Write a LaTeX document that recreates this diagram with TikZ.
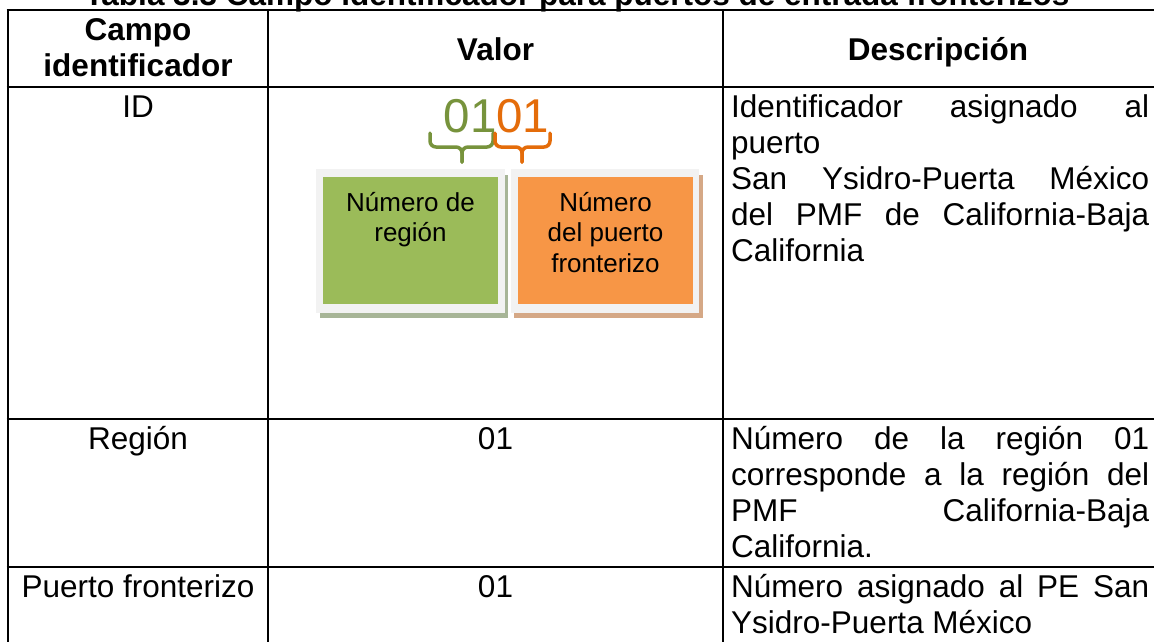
\documentclass[tikz,border=0pt]{standalone}
\usepackage{fontspec}
\setmainfont{Liberation Sans}
\definecolor{gdark}{HTML}{77933C}
\definecolor{odark}{HTML}{E46C0A}
\definecolor{gfill}{HTML}{9BBB59}
\definecolor{ofill}{HTML}{F79646}
\definecolor{framegray}{HTML}{F2F2F2}
\definecolor{gshadow}{HTML}{A7B597}
\definecolor{oshadow}{HTML}{D5A886}
\tikzset{
  cell/.style={inner sep=0pt, font=\fontsize{31.5}{36}\selectfont},
  head/.style={inner sep=0pt, font=\fontsize{31.5}{36}\selectfont\bfseries},
  gridline/.style={line width=2.6pt, black},
  boxtxt/.style={inner sep=0pt, font=\fontsize{26}{30}\selectfont},
  bracepath/.style={line width=3.5pt, rounded corners=6pt, line cap=round},
}
\newcommand{\jline}[1]{\makebox[418pt][s]{#1}}
\begin{document}
\begin{tikzpicture}[x=1pt,y=-1pt]
\useasboundingbox (0,0) rectangle (1154,641);
\clip (0,0) rectangle (1154,641);
\fill[white] (0,0) rectangle (1154,641);
% title (cut off at top)
\node[head, anchor=base] (title) at (577,5) {Tabla 3.3 Campo identificador para puertos de entrada fronterizos};
% grid
\draw[gridline] (8,10) -- (8,660);
\draw[gridline] (268,10) -- (268,660);
\draw[gridline] (723,10) -- (723,660);
\draw[gridline] (6.7,10) -- (1170,10);
\draw[gridline] (6.7,87) -- (1170,87);
\draw[gridline] (6.7,419) -- (1170,419);
\draw[gridline] (6.7,567) -- (1170,567);
% header
\node[head, anchor=base] (h1a) at (138,40.5) {Campo};
\node[head, anchor=base] (h1b) at (138,76.5) {identificador};
\node[head, anchor=base] (h2) at (495.5,60) {Valor};
\node[head, anchor=base] (h3) at (938,60) {Descripción};
% row 1
\node[cell, anchor=base] (r1c1) at (138,117.5) {ID};
\node[cell, anchor=base west] (r1d1) at (731,117.5) {\jline{Identificador asignado al}};
\node[cell, anchor=base west] (r1d2) at (731,153.5) {puerto};
\node[cell, anchor=base west] (r1d3) at (731,189.5) {\jline{San Ysidro-Puerta México}};
\node[cell, anchor=base west] (r1d4) at (731,225.5) {\jline{del PMF de California-Baja}};
\node[cell, anchor=base west] (r1d5) at (731,261.5) {California};
% graphic
\node[inner sep=0pt, anchor=base, font=\fontsize{47.5}{50}\selectfont] (digits) at (496.5,132) {\textcolor{gdark}{01}\textcolor{odark}{01}};
\draw[bracepath, gdark] (430,133) |- (462,147) -- (462,162);
\draw[bracepath, gdark] (493,133) |- (462,147) -- (462,162);
\draw[bracepath, odark] (495,133) |- (522,147) -- (522,162);
\draw[bracepath, odark] (550,133) |- (522,147) -- (522,162);
\fill[gshadow] (320,175) rectangle (508,318);
\fill[framegray] (316,169) rectangle (505,313);
\fill[gfill] (323,177) rectangle (498,304);
\fill[oshadow] (514,175) rectangle (703,318);
\fill[framegray] (511,169) rectangle (699,313);
\fill[ofill] (518,177) rectangle (693,304);
\node[boxtxt, anchor=base] (g1) at (410.5,211.7) {Número de};
\node[boxtxt, anchor=base] (g2) at (410.5,241.7) {región};
\node[boxtxt, anchor=base] (o1) at (605.5,211.7) {Número};
\node[boxtxt, anchor=base] (o2) at (605.5,241.7) {del puerto};
\node[boxtxt, anchor=base] (o3) at (605.5,272.7) {fronterizo};
% row 2
\node[cell, anchor=base] (r2c1) at (138,449.5) {Región};
\node[cell, anchor=base] (r2c2) at (495.5,449.5) {01};
\node[cell, anchor=base west] (r2d1) at (731,449.5) {\jline{Número de la región 01}};
\node[cell, anchor=base west] (r2d2) at (731,485.5) {\jline{corresponde a la región del}};
\node[cell, anchor=base west] (r2d3) at (731,521.5) {\jline{PMF California-Baja}};
\node[cell, anchor=base west] (r2d4) at (731,557.5) {California.};
% row 3
\node[cell, anchor=base] (r3c1) at (138,597.5) {Puerto fronterizo};
\node[cell, anchor=base] (r3c2) at (495.5,597.5) {01};
\node[cell, anchor=base west] (r3d1) at (731,597.5) {\jline{Número asignado al PE San}};
\node[cell, anchor=base west] (r3d2) at (731,633.5) {Ysidro-Puerta México};
\end{tikzpicture}
\end{document}
